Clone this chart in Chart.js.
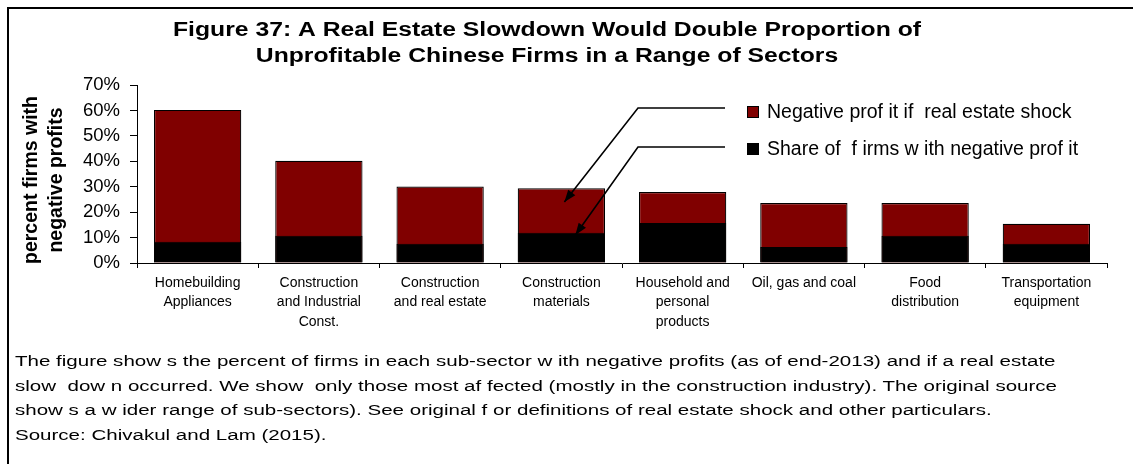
<!DOCTYPE html>
<html><head><meta charset="utf-8">
<script src="https://cdn.jsdelivr.net/npm/chart.js@4.4.1/dist/chart.umd.min.js"></script>
<style>
html,body{margin:0;padding:0;background:#fff;}
#wrap{position:relative;width:1133px;height:464px;overflow:hidden;background:#fff;}
#frame{position:absolute;left:7px;top:7px;right:-10px;bottom:-10px;border-top:2px solid #000;border-left:2px solid #000;pointer-events:none;}
#c{position:absolute;left:0;top:0;}
#caption{position:absolute;left:15px;top:349px;font-family:"Liberation Sans",Arial,sans-serif;font-size:15.5px;color:#000;transform-origin:0 0;white-space:pre;}
#caption div{height:24.7px;line-height:24.7px;}
</style></head>
<body>
<div id="wrap">
<canvas id="c" width="1133" height="464" style="width:1133px;height:464px"></canvas>
<div id="frame"></div>
<div id="caption"></div>
</div>
<script>
const FONT = '"Liberation Sans", Arial, sans-serif';

const categories = [
  ['Homebuilding', 'Appliances'],
  ['Construction', 'and Industrial', 'Const.'],
  ['Construction', 'and real estate'],
  ['Construction', 'materials'],
  ['Household and', 'personal', 'products'],
  ['Oil, gas and coal'],
  ['Food', 'distribution'],
  ['Transportation', 'equipment']
];
const shockShare = [60.2, 40.2, 30.1, 29.4, 27.9, 23.6, 23.6, 15.4];
const baseShare  = [8.4, 10.7, 7.6, 11.9, 15.7, 6.3, 10.7, 7.6];
const seriesLabels = ['Negative prof it if  real estate shock', 'Share of  f irms w ith negative prof it'];
const yMin = 0, yMax = 70, yStep = 10;
const titleLines = ['Figure 37: A Real Estate Slowdown Would Double Proportion of',
                    'Unprofitable Chinese Firms in a Range of Sectors'];
const yTitleLines = ['percent firms with', 'negative profits'];
const captionLines = [
  'The figure show s the percent of firms in each sub-sector w ith negative profits (as of end-2013) and if a real estate',
  'slow  dow n occurred. We show  only those most af fected (mostly in the construction industry). The original source',
  'show s a w ider range of sub-sectors). See original f or definitions of real estate shock and other particulars.',
  'Source: Chivakul and Lam (2015).'
];

const RED = '#800000';

function arrow(c, pts) {
  c.beginPath();
  c.moveTo(pts[0][0], pts[0][1]);
  for (let i = 1; i < pts.length; i++) c.lineTo(pts[i][0], pts[i][1]);
  c.stroke();
  const a = pts[pts.length - 2], b = pts[pts.length - 1];
  const dx = b[0] - a[0], dy = b[1] - a[1], L = Math.hypot(dx, dy);
  const ux = dx / L, uy = dy / L, hl = 12, hw = 4.5;
  c.beginPath();
  c.moveTo(b[0], b[1]);
  c.lineTo(b[0] - ux * hl - uy * hw, b[1] - uy * hl + ux * hw);
  c.lineTo(b[0] - ux * hl + uy * hw, b[1] - uy * hl - ux * hw);
  c.closePath();
  c.fill();
}

const decor = {
  id: 'decor',
  afterDraw(chart) {
    const c = chart.ctx, xs = chart.scales.x, ys = chart.scales.y;
    c.save();
    c.fillStyle = '#000';
    c.strokeStyle = '#000';
    // title
    c.font = 'bold 19.5px ' + FONT;
    c.textAlign = 'center';
    c.textBaseline = 'alphabetic';
    const sx = 748 / c.measureText(titleLines[0]).width;
    titleLines.forEach((t, i) => {
      c.save(); c.translate(547, 36 + i * 26); c.scale(sx, 1); c.fillText(t, 0, 0); c.restore();
    });
    // y axis title
    c.font = 'bold 19.5px ' + FONT;
    c.textBaseline = 'middle';
    yTitleLines.forEach((t, i) => {
      c.save(); c.translate(32 + i * 25, 180); c.rotate(-Math.PI / 2); c.fillText(t, 0, 0); c.restore();
    });
    // legend
    c.font = '19.5px ' + FONT;
    c.textAlign = 'left';
    c.textBaseline = 'alphabetic';
    const legend = [[seriesLabels[0], RED, 106, 118], [seriesLabels[1], '#000', 143, 155]];
    c.lineWidth = 1;
    legend.forEach(([t, col, by, bl]) => {
      c.fillStyle = col; c.fillRect(747, by, 12, 12);
      c.strokeStyle = '#000'; c.strokeRect(747.5, by + 0.5, 11, 11);
      c.fillStyle = '#000'; c.fillText(t, 767, bl);
    });
    // arrows
    c.lineWidth = 1.6;
    const cx = xs.getPixelForValue(3);
    arrow(c, [[725, 108], [638, 108], [cx + 3, ys.getPixelForValue(24)]]);
    arrow(c, [[725, 147], [638, 147], [cx + 14, ys.getPixelForValue(11)]]);
    c.restore();
  }
};

new Chart(document.getElementById('c'), {
  type: 'bar',
  data: {
    labels: categories,
    datasets: [
      { label: seriesLabels[1], data: baseShare, backgroundColor: '#000', borderColor: '#000', borderWidth: 1 },
      { label: seriesLabels[0], data: shockShare, backgroundColor: RED, borderColor: '#000', borderWidth: 1.2 }
    ]
  },
  options: {
    responsive: false,
    animation: false,
    devicePixelRatio: 1,
    layout: { padding: { left: 0, top: 85, right: 26, bottom: 0 } },
    plugins: { legend: { display: false }, title: { display: false }, tooltip: { enabled: false } },
    datasets: { bar: { categoryPercentage: 0.8, barPercentage: 0.9 } },
    scales: {
      x: {
        stacked: true,
        grid: { display: true, drawOnChartArea: false, drawTicks: true, tickLength: 5, color: '#000', offset: true },
        border: { display: true, color: '#000', width: 1 },
        ticks: { color: '#000', font: { family: FONT, size: 14, lineHeight: 1.39 }, padding: 5, maxRotation: 0, minRotation: 0, autoSkip: false },
        afterFit(s) { s.height = 201; }
      },
      y: {
        stacked: false,
        min: yMin, max: yMax,
        grid: { display: true, drawOnChartArea: false, drawTicks: true, tickLength: 7, color: '#000' },
        border: { display: true, color: '#000', width: 1 },
        ticks: { stepSize: yStep, callback: v => v + '%', color: '#000', font: { family: FONT, size: 18.5 }, padding: 10 },
        afterFit(s) { s.width = 137; }
      }
    }
  },
  plugins: [decor]
});

// caption
const cap = document.getElementById('caption');
captionLines.forEach(t => { const d = document.createElement('div'); d.textContent = t; cap.appendChild(d); });
const ref = cap.children[1];
const span = document.createElement('span'); span.textContent = captionLines[1];
span.style.whiteSpace = 'pre'; ref.textContent = ''; ref.appendChild(span);
const w = span.getBoundingClientRect().width;
cap.style.transform = 'scaleX(' + (1042 / w) + ')';
</script>
</body></html>
